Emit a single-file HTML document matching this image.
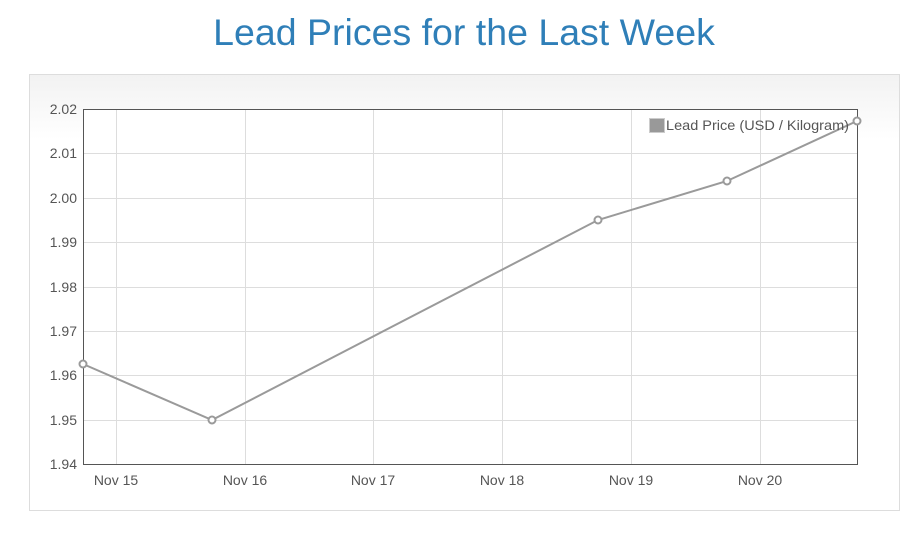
<!DOCTYPE html>
<html><head><style>
body{margin:0;width:924px;height:532px;background:#fff;font-family:"Liberation Sans",sans-serif;overflow:hidden}
</style></head><body>
<svg width="924" height="532" xmlns="http://www.w3.org/2000/svg" font-family="Liberation Sans, sans-serif">
<defs><linearGradient id="g" x1="0" y1="0" x2="0" y2="1"><stop offset="0" stop-color="#f2f2f2"/><stop offset="0.15" stop-color="#fff"/></linearGradient></defs>
<text x="464" y="45" font-size="37.5" fill="#2f7fb8" text-anchor="middle">Lead Prices for the Last Week</text>
<rect x="29.5" y="74.5" width="870" height="436" fill="url(#g)" stroke="#ddd"/>
<rect x="83" y="109" width="774" height="355" fill="#fff"/>
<g stroke="#ddd" stroke-width="1">
<line x1="83" x2="857" y1="153.5" y2="153.5"/><line x1="83" x2="857" y1="198.5" y2="198.5"/>
<line x1="83" x2="857" y1="242.5" y2="242.5"/><line x1="83" x2="857" y1="287.5" y2="287.5"/>
<line x1="83" x2="857" y1="331.5" y2="331.5"/><line x1="83" x2="857" y1="375.5" y2="375.5"/>
<line x1="83" x2="857" y1="420.5" y2="420.5"/>
<line y1="109" y2="464" x1="116.5" x2="116.5"/><line y1="109" y2="464" x1="245.5" x2="245.5"/>
<line y1="109" y2="464" x1="373.5" x2="373.5"/><line y1="109" y2="464" x1="502.5" x2="502.5"/>
<line y1="109" y2="464" x1="631.5" x2="631.5"/><line y1="109" y2="464" x1="760.5" x2="760.5"/>
</g>
<rect x="83.5" y="109.5" width="774" height="355" fill="none" stroke="#555"/>
<g font-size="14" fill="#555" text-anchor="end">
<text x="77" y="114">2.02</text><text x="77" y="158">2.01</text><text x="77" y="203">2.00</text>
<text x="77" y="247">1.99</text><text x="77" y="292">1.98</text><text x="77" y="336">1.97</text>
<text x="77" y="380">1.96</text><text x="77" y="425">1.95</text><text x="77" y="469">1.94</text>
</g>
<g font-size="14" fill="#555" text-anchor="middle">
<text x="116" y="485">Nov 15</text><text x="245" y="485">Nov 16</text><text x="373" y="485">Nov 17</text>
<text x="502" y="485">Nov 18</text><text x="631" y="485">Nov 19</text><text x="760" y="485">Nov 20</text>
</g>
<polyline points="83,364 212,420 598,220 727,181 857,121" fill="none" stroke="#9a9a9a" stroke-width="2"/>
<g fill="#fff" stroke="#9a9a9a" stroke-width="2">
<circle cx="83" cy="364" r="3.5"/><circle cx="212" cy="420" r="3.5"/><circle cx="598" cy="220" r="3.5"/>
<circle cx="727" cy="181" r="3.5"/><circle cx="857" cy="121" r="3.5"/>
</g>
<rect x="649.5" y="118.5" width="15" height="14" fill="#999" stroke="#ccc"/>
<text x="666" y="130" font-size="14" fill="#555" textLength="183" lengthAdjust="spacingAndGlyphs">Lead Price (USD / Kilogram)</text>
</svg>
</body></html>
